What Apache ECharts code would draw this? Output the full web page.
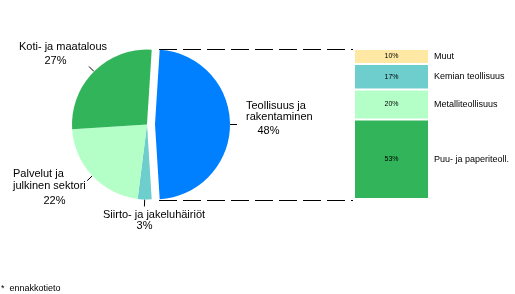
<!DOCTYPE html>
<html><head><meta charset="utf-8">
<script src="https://cdn.jsdelivr.net/npm/echarts@6/dist/echarts.min.js"></script>
<style>html,body{margin:0;padding:0;background:#fff}#c{width:515px;height:294px}</style>
</head><body><div id="c"></div>
<script>
// ---- data ----
const pieNames = ['Teollisuus ja\nrakentaminen', 'Siirto- ja jakeluhäiriöt', 'Palvelut ja\njulkinen sektori', 'Koti- ja maatalous'];
const pieValues = [48, 3, 22, 27];
const barNames = ['Puu- ja paperiteoll.', 'Metalliteollisuus', 'Kemian teollisuus', 'Muut'];
const barValues = [53, 20, 17, 10];
const footnoteText = '*  ennakkotieto';

// ---- style / layout ----
const pieColors = ['#0080ff', '#6ecdcd', '#b4ffc8', '#32b45a'];
const barColors = ['#32b45a', '#b4ffc8', '#6ecdcd', '#ffe8a4'];
const FONT = "'Liberation Sans', Arial, sans-serif";
const CX = 147, CY = 124.5, R = 75, OFF = 8, START = 86.4;
const LH = 11.5;
// [nameX, firstLineCenterY, pctCenterX, pctCenterY]
const pieLabelPos = [[246, 105.5, 268.5, 130.5], [103, 214.5, 144.5, 226], [13, 174, 54.5, 201], [19, 47.3, 55.5, 60.7]];
const GRID = {left: 354, top: 49, width: 75, height: 150};

const chart = echarts.init(document.getElementById('c'), null, {renderer: 'canvas'});

const graphics = [];
pieNames.forEach((n, i) => {
  const p = pieLabelPos[i];
  graphics.push({type: 'text', x: p[0], y: p[1] - LH / 2, silent: true,
    style: {text: n, font: '11px ' + FONT, fill: '#000', lineHeight: LH, align: 'left', verticalAlign: 'top'}});
  graphics.push({type: 'text', x: p[2], y: p[3], silent: true,
    style: {text: pieValues[i] + '%', font: '11px ' + FONT, fill: '#000', align: 'center', verticalAlign: 'middle'}});
});
// connector dashed lines (pie exploded slice -> bar)
const x1 = 159, x2 = GRID.left - 1;
[GRID.top + 0.5, GRID.top + GRID.height + 1.5].forEach(y => {
  graphics.push({type: 'line', silent: true, shape: {x1: x1, y1: y, x2: x2, y2: y},
    style: {stroke: '#000', lineWidth: 1, lineDash: [18, 6]}});
});
graphics.push({type: 'text', x: 1, y: 289, silent: true,
  style: {text: footnoteText, font: '9px ' + FONT, fill: '#000', align: 'left', verticalAlign: 'middle'}});

const series = [{
  type: 'pie', center: [CX, CY], radius: R, startAngle: START, clockwise: true,
  selectedMode: 'single', selectedOffset: OFF, avoidLabelOverlap: false, silent: true,
  data: pieNames.map((n, i) => ({name: n, value: pieValues[i], selected: i === 0, itemStyle: {color: pieColors[i]}})),
  itemStyle: {borderWidth: 0},
  label: {show: true, position: 'outside', formatter: ' ', fontSize: 2},
  labelLine: {show: true, length: 7, length2: 0, lineStyle: {color: '#000', width: 1}},
  emphasis: {disabled: true}
}];
barNames.forEach((n, i) => {
  series.push({type: 'bar', stack: 'a', data: [barValues[i]], barWidth: GRID.width, barGap: '-100%', silent: true,
    itemStyle: {color: barColors[i], borderColor: '#fff', borderWidth: 1},
    label: {show: true, position: 'right', distance: 5, formatter: n, fontSize: 9, fontFamily: FONT, color: '#000'},
    emphasis: {disabled: true}});
});
barNames.forEach((n, i) => {
  series.push({type: 'bar', stack: 'b', data: [barValues[i]], barWidth: GRID.width, barGap: '-100%', silent: true,
    itemStyle: {color: 'rgba(0,0,0,0)'},
    label: {show: true, position: 'inside', formatter: barValues[i] + '%', fontSize: 7, fontFamily: FONT, color: '#000', textBorderWidth: 0},
    emphasis: {disabled: true}});
});

chart.setOption({
  animation: false,
  grid: Object.assign({}, GRID),
  xAxis: {type: 'category', data: [''], show: false},
  yAxis: {type: 'value', min: 0, max: 100, show: false},
  series: series,
  graphic: graphics
});
</script></body></html>
